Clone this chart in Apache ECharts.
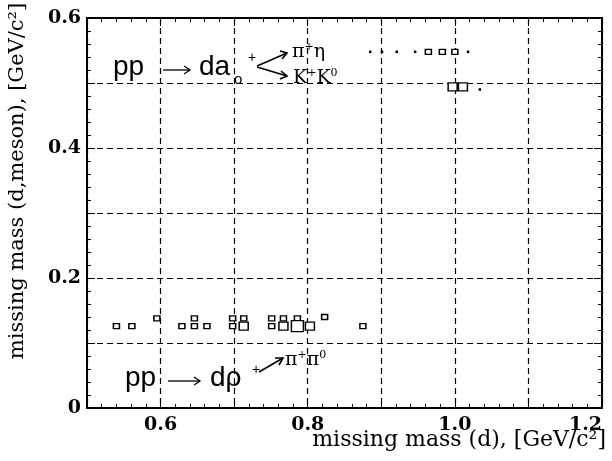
<!DOCTYPE html>
<html>
<head>
<meta charset="utf-8">
<script src="https://cdn.jsdelivr.net/npm/echarts@6/dist/echarts.min.js"></script>
<style>
  html, body { margin: 0; padding: 0; background: #fff; }
  #chart { width: 612px; height: 461px; }
</style>
</head>
<body>
<div id="chart"></div>
<script>
// hollow boxes: missing mass (d), missing mass (d,meson), box weight (1..3)
const boxX = [0.540, 0.561, 0.595, 0.629, 0.646, 0.646, 0.663, 0.698, 0.698, 0.713, 0.713,
              0.751, 0.751, 0.767, 0.767, 0.786, 0.786, 0.803, 0.823, 0.875,
              0.964, 0.983, 1.000, 0.997, 1.011];
const boxY = [0.126, 0.126, 0.138, 0.126, 0.138, 0.126, 0.126, 0.138, 0.126, 0.138, 0.126,
              0.138, 0.126, 0.138, 0.126, 0.138, 0.126, 0.126, 0.140, 0.126,
              0.548, 0.548, 0.548, 0.494, 0.494];
const boxW = [1, 1, 1, 1, 1, 1, 1, 1, 1, 1, 2,
              1, 1, 1, 2, 1, 3, 2, 1, 1,
              1, 1, 1, 2, 2];
// single-count dots
const dotX = [0.885, 0.901, 0.921, 0.946, 1.018, 1.034];
const dotY = [0.548, 0.548, 0.548, 0.548, 0.548, 0.490];

const xTickLabels = ['0.6', '0.8', '1.0', '1.2'];
const yTickLabels = ['0', '0.2', '0.4', '0.6'];

const boxSizes = [2, 5, 8, 11];
const serif = '"DejaVu Serif", serif';
const sans = '"Liberation Sans", Arial, sans-serif';

const chart = echarts.init(document.getElementById('chart'));

const tickStyle = { color: '#000', width: 1 };
function xAx(pos, labels) {
  return {
    type: 'value', position: pos, min: 0.5, max: 1.2, interval: 0.1,
    axisLine: { show: true, onZero: false, lineStyle: { color: '#000', width: 2 } },
    axisTick: { show: true, inside: true, length: 8, lineStyle: tickStyle },
    minorTick: { show: true, splitNumber: 5, length: 4, lineStyle: tickStyle },
    splitLine: { show: pos === 'bottom', lineStyle: { color: '#000', type: [6, 4], width: 1.2 } },
    axisLabel: {
      show: labels, margin: 8, color: '#000', alignMaxLabel: 'right',
      fontFamily: serif, fontWeight: 'bold', fontSize: 19,
      formatter: v => { const s = v.toFixed(1); return xTickLabels.includes(s) ? s : ''; }
    }
  };
}
function yAx(pos, labels) {
  return {
    type: 'value', position: pos, min: 0, max: 0.6, interval: 0.1,
    axisLine: { show: true, onZero: false, lineStyle: { color: '#000', width: 2 } },
    axisTick: { show: true, inside: true, length: 8, lineStyle: tickStyle },
    minorTick: { show: true, splitNumber: 5, length: 4, lineStyle: tickStyle },
    splitLine: { show: pos === 'left', lineStyle: { color: '#000', type: [6, 4], width: 1.2 } },
    axisLabel: {
      show: labels, margin: 6, color: '#000',
      fontFamily: serif, fontWeight: 'bold', fontSize: 19,
      formatter: v => {
        const s = v === 0 ? '0' : v.toFixed(1);
        return yTickLabels.includes(s) ? s : '';
      }
    }
  };
}

const boxData = boxX.map((x, i) => [x, boxY[i], boxW[i]]);
const dotData = dotX.map((x, i) => [x, dotY[i]]);

const txt = (x, y, text, size, font, extra) => ({
  type: 'text', x: x, y: y, z: 10,
  style: Object.assign({ text: text, fontSize: size, fontFamily: font, fill: '#000',
                         verticalAlign: 'middle' }, extra || {})
});
const line = (pts, w) => ({ type: 'polyline', z: 10, shape: { points: pts },
                            style: { stroke: '#000', lineWidth: w || 1.6, fill: null } });
const arrow = (x1, x2, y) => [
  line([[x1, y], [x2, y]], 1.3),
  line([[x2 - 6, y - 4], [x2, y], [x2 - 6, y + 4]], 1.3)
];
const supText = (x, y, text) => ({
  type: 'text', x: x, y: y, z: 10,
  style: {
    text: text, fill: '#000', verticalAlign: 'middle',
    fontFamily: serif, fontSize: 19,
    rich: { s: { fontFamily: serif, fontSize: 11, verticalAlign: 'top', padding: [0, 0, 9, 0] } }
  }
});

const option = {
  animation: false,
  backgroundColor: '#fff',
  grid: { left: 87, right: 10, top: 18, bottom: 53, show: false },
  xAxis: [xAx('bottom', true), xAx('top', false)],
  yAxis: [yAx('left', true), yAx('right', false)],
  series: [
    {
      type: 'scatter', symbol: 'rect', data: boxData,
      symbolSize: v => [boxSizes[v[2]] + 1, boxSizes[v[2]]],
      itemStyle: { color: '#fff', borderColor: '#000', borderWidth: 1.4, opacity: 1 }
    },
    {
      type: 'scatter', symbol: 'rect', data: dotData, symbolSize: 2.5,
      itemStyle: { color: '#000', opacity: 1 }
    }
  ],
  graphic: [
    // pp -> d a0+ -> pi+ eta / K+ K0
    txt(113, 67, 'pp', 28, sans),
    ...arrow(163, 190, 70),
    txt(199, 67, 'da', 28, sans),
    txt(234, 80, 'o', 15, sans),
    txt(248, 58, '+', 14, sans),
    line([[257, 66], [287, 53]]),
    line([[280, 51], [287, 53], [282, 59]]),
    line([[257, 67], [287, 76]]),
    line([[281, 71], [287, 76], [280, 79]]),
    supText(292, 52, '\u03c0{s|+}\u03b7'),
    supText(293, 78, 'K{s|+}K{s|0}'),
    // pp -> d rho+ -> pi+ pi0
    txt(125, 378, 'pp', 28, sans),
    ...arrow(168, 200, 381),
    txt(210, 378, 'd\u03c1', 28, sans),
    txt(252, 370, '+', 14, sans),
    line([[259, 372], [283, 358]]),
    line([[275, 358], [283, 358], [279, 365]]),
    supText(285, 360, '\u03c0{s|+}\u03c0{s|0}'),
    // axis titles
    {
      type: 'text', x: 18, y: 181, rotation: Math.PI / 2, z: 10,
      style: { text: 'missing mass (d,meson), [GeV/c\u00b2]', fontSize: 21, fontFamily: serif,
               fill: '#000', align: 'center', verticalAlign: 'middle' }
    },
    txt(606, 440, 'missing mass (d), [GeV/c\u00b2]', 22, serif, { align: 'right' })
  ]
};

chart.setOption(option);
</script>
</body>
</html>
